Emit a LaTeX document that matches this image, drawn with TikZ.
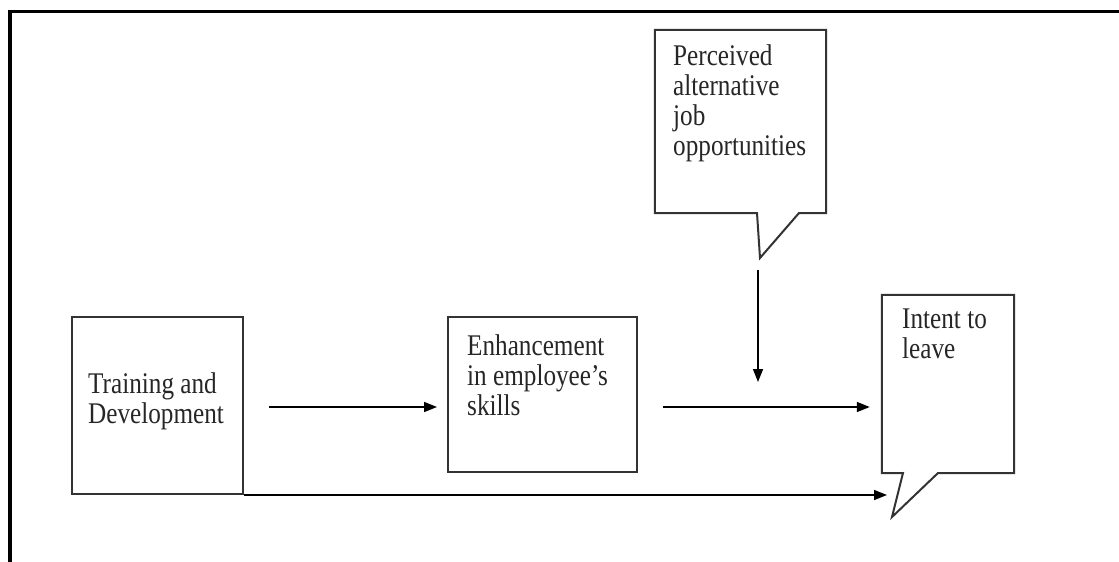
\documentclass[tikz,border=0pt]{standalone}
\usepackage{fontspec}
\setmainfont{Liberation Serif}
\newfontfamily\boxfont[FakeStretch=0.84]{Liberation Serif}
\usetikzlibrary{arrows.meta}

\begin{document}
\begin{tikzpicture}[x=1pt,y=-1pt,
    box/.style={draw=black!80, line width=2pt, inner sep=0pt},
    area/.style={inner sep=0pt},
    outline/.style={draw=black!80, line width=2pt, line join=miter},
    txt/.style={font=\boxfont\fontsize{30}{30}\selectfont, text=black!85, align=left, inner sep=0pt, anchor=base west},
    arr/.style={line width=1.5pt, -{Triangle[length=13pt,width=10pt]}}]
    \useasboundingbox (0,0) rectangle (1119,562);
    \draw[line width=3.4pt] (10,562) -- (10,11.5) -- (1119,11.5);

    % boxes and callouts
    \node[box, minimum width=171pt, minimum height=177pt] (train) at (157.5,405.5) {};
    \node[box, minimum width=189pt, minimum height=155pt] (enh) at (542.5,394.5) {};
    \node[area, minimum width=171pt, minimum height=183pt] (perc) at (740.5,121.5) {};
    \node[area, minimum width=132pt, minimum height=178pt] (intent) at (948,384) {};
    \coordinate (perc tip) at (760,258);
    \coordinate (intent tip) at (892,517);
    \coordinate (row) at (0,407);

    \draw[outline] (perc.south west) -- (perc.north west) -- (perc.north east) -- (perc.south east)
        -- (799,213) -- (perc tip) -- (757,213) -- cycle;
    \draw[outline] (intent.south west) -- (intent.north west) -- (intent.north east) -- (intent.south east)
        -- (938,473) -- (intent tip) -- (903,473) -- cycle;

    % text, placed at the baseline of the last line
    \node[txt] (train txt) at (88,423) {Training and\\Development};
    \node[txt] (enh txt) at (467,415) {Enhancement\\in employee’s\\skills};
    \node[txt] (perc txt) at (673,155) {Perceived\\alternative\\job\\opportunities};
    \node[txt] (intent txt) at (902,358) {Intent to\\leave};

    % connectors
    \draw[arr] ([xshift=25pt]train.east |- row) -- ([xshift=-10pt]enh.west |- row);
    \draw[arr] ([xshift=25pt]enh.east |- row) -- ([xshift=-12pt]intent.west |- row);
    \draw[arr] ([shift={(-2,12)}]perc tip) -- ++(0,112);
    \draw[arr] (train.south east) -- ([xshift=-5pt]intent tip |- train.south east);

\end{tikzpicture}
\end{document}
